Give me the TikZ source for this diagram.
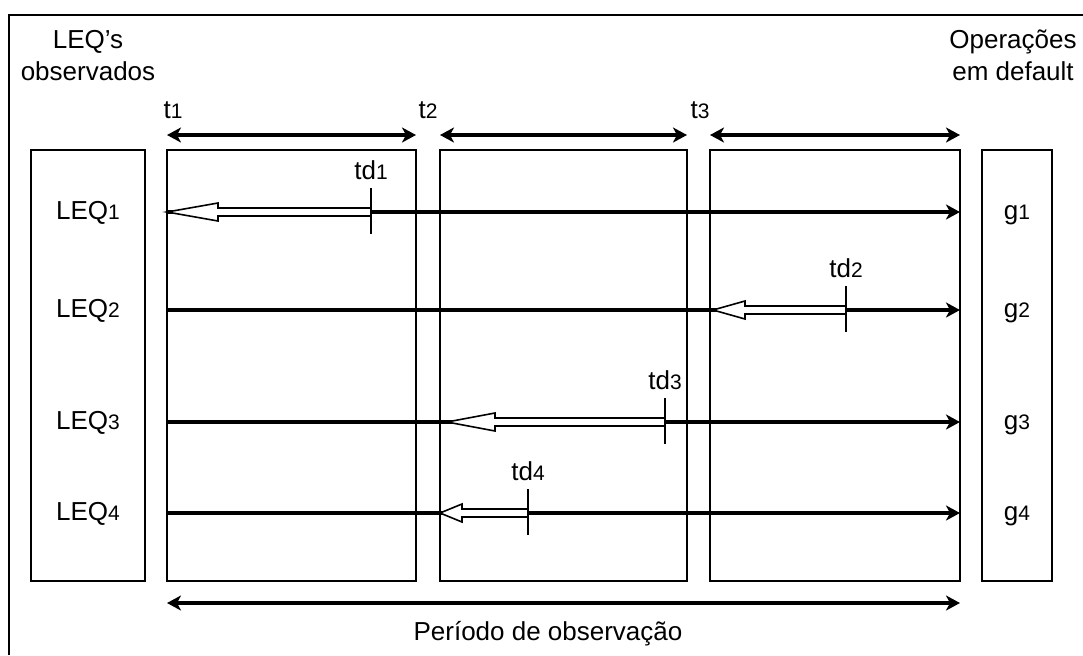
\documentclass[tikz,border=0pt]{standalone}
\usepackage{fontspec}
\setmainfont{Liberation Sans}
\usetikzlibrary{arrows.meta}
\newcommand{\idx}[1]{{\fontsize{10.5}{12}\selectfont #1}}
\begin{document}
\begin{tikzpicture}[x=0.5pt,y=-0.5pt,font=\fontsize{13}{16}\selectfont,line join=miter,>={Stealth[length=7pt,width=7.5pt,inset=2pt]}]
	\useasboundingbox (0,0) rectangle (1083,655);
	\tikzset{frame/.style={line width=0.7pt},
		row/.style={line width=1.7pt},
		hollow/.style={draw,fill=white,line width=0.8pt},
		tick/.style={line width=0.8pt},
		lbl/.style={anchor=base,inner sep=0pt}}
	% outer frame
	\draw[frame] (9,655) -- (9,15) -- (1083,15);
	% boxes
	\draw[frame] (31,150) rectangle (145,581);
	\draw[frame] (167,150) rectangle (416,581);
	\draw[frame] (440,150) rectangle (687,581);
	\draw[frame] (710,150) rectangle (960,581);
	\draw[frame] (982,150) rectangle (1052,581);
	% headings
	\node[lbl] (obs1) at (88,48) {LEQ’s};
	\node[lbl] (obs2) at (88,80) {observados};
	\node[lbl] (def1) at (1013,48) {Operações};
	\node[lbl] (def2) at (1013,80) {em default};
	% time periods
	\coordinate (p0) at (167,135);
	\coordinate (p1) at (416,135);
	\coordinate (p2) at (440,135);
	\coordinate (p3) at (687,135);
	\coordinate (p4) at (710,135);
	\coordinate (p5) at (960,135);
	\draw[row,<->] (p0) -- (p1);
	\draw[row,<->] (p2) -- (p3);
	\draw[row,<->] (p4) -- (p5);
	\node[lbl] (t1) at (173,118) {t\idx{1}};
	\node[lbl] (t2) at (428,118) {t\idx{2}};
	\node[lbl] (t3) at (700,118) {t\idx{3}};
	% rows
	\foreach \y/\n in {212/1,310/2,422/3,513/4}{
		\node[lbl] (leq\n) at (88,\y+7) {LEQ\idx{\n}};
		\node[lbl] (g\n) at (1017,\y+7) {g\idx{\n}};
		\coordinate (a\n) at (167,\y);
		\coordinate (b\n) at (960,\y);
		\draw[row,->] (a\n) -- (b\n);
	}
	% default times
	\foreach \tx/\hx/\dx/\y/\n in {167/218/371/212/1,713/745/846/310/2,447/495/665/422/3,440/462/528/513/4}{
		\draw[hollow] (\tx,\y) -- (\hx,\y-9) -- (\hx,\y-4) -- (\dx,\y-4) -- (\dx,\y+4) -- (\hx,\y+4) -- (\hx,\y+9) -- cycle;
		\draw[tick] (\dx,\y-24) -- (\dx,\y+22);
		\node[lbl] (td\n) at (\dx,\y-33) {td\idx{\n}};
	}
	% observation period
	\coordinate (q0) at (167,603);
	\coordinate (q1) at (960,603);
	\draw[row,<->] (q0) -- (q1);
	\node[lbl] (per) at (548,640) {Período de observação};
\end{tikzpicture}
\end{document}
